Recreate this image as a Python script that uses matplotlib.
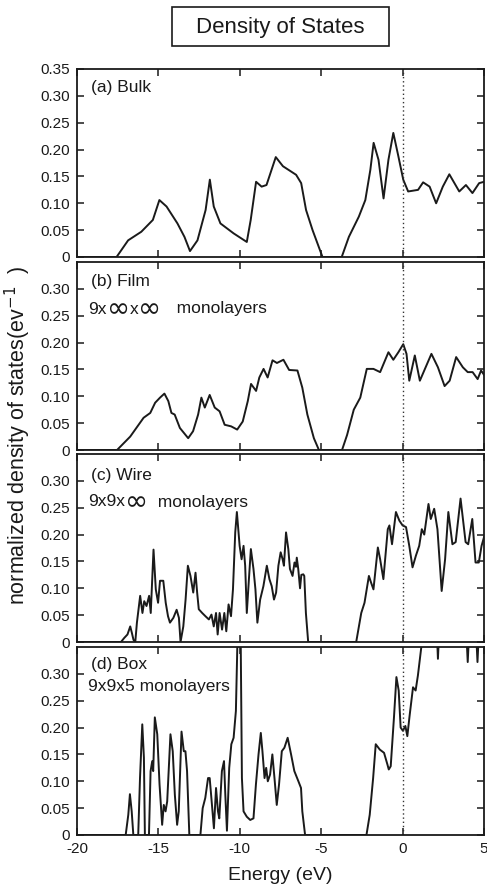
import matplotlib
matplotlib.use("Agg")
import matplotlib.pyplot as plt
from matplotlib.patches import Rectangle
from matplotlib.ticker import FuncFormatter
from matplotlib.offsetbox import TextArea, HPacker, AnchoredOffsetbox

plt.rcParams['font.family'] = ['Liberation Sans', 'DejaVu Sans']
plt.rcParams['axes.unicode_minus'] = False
plt.rcParams['mathtext.fontset'] = 'dejavusans'

# ---------------- data (energy in eV, normalized DOS) ----------------
E_bulk = [-20, -17.57, -16.86, -16.05, -15.34, -14.94, -14.5, -13.83, -13.4, -13.06,
          -12.6, -12.1, -11.84, -11.6, -11.19, -10.38, -9.57, -9.33, -9.0, -8.66,
          -8.36, -7.79, -7.35, -6.54, -6.23, -5.93, -5.53, -4.92, -3.74, -3.3,
          -2.69, -2.29, -1.98, -1.78, -1.48, -1.17, -0.87, -0.57, -0.26, 0.04,
          0.34, 0.95, 1.26, 1.66, 2.06, 2.47, 2.87, 3.48, 3.89, 4.29, 4.7, 5.0]
D_bulk = [0, 0, 0.031, 0.047, 0.069, 0.106, 0.094, 0.0625, 0.0375, 0.011,
          0.031, 0.0875, 0.144, 0.094, 0.0625, 0.044, 0.028, 0.069, 0.14, 0.131,
          0.134, 0.186, 0.169, 0.153, 0.1375, 0.0875, 0.05, 0, 0, 0.0375,
          0.075, 0.106, 0.1625, 0.2125, 0.181, 0.109, 0.181, 0.231, 0.1875, 0.144,
          0.122, 0.125, 0.139, 0.131, 0.1, 0.131, 0.154, 0.122, 0.134, 0.119, 0.1375, 0.14]

E_film = [-20, -17.54, -16.73, -15.91, -15.5, -15.2, -14.9, -14.63, -14.39, -14.2,
          -14.0, -13.68, -13.17, -12.87, -12.56, -12.36, -12.15, -11.85, -11.54, -11.24,
          -10.93, -10.53, -10.16, -9.82, -9.51, -9.31, -9.0, -8.8, -8.54, -8.29,
          -7.99, -7.72, -7.32, -6.97, -6.46, -6.16, -5.85, -5.45, -5.14, -3.72,
          -3.41, -3.0, -2.6, -2.2, -1.79, -1.38, -0.87, -0.57, -0.26, 0.04,
          0.24, 0.41, 0.75, 1.06, 1.77, 2.17, 2.58, 2.89, 3.29, 3.7,
          4.0, 4.3, 4.61, 4.82, 5.0]
D_film = [0, 0, 0.025, 0.06, 0.069, 0.088, 0.0975, 0.105, 0.091, 0.069,
          0.066, 0.041, 0.022, 0.035, 0.066, 0.0975, 0.079, 0.1025, 0.079, 0.072,
          0.047, 0.044, 0.038, 0.053, 0.091, 0.123, 0.11, 0.135, 0.151, 0.135,
          0.167, 0.162, 0.168, 0.149, 0.148, 0.116, 0.066, 0.022, 0, 0,
          0.028, 0.075, 0.0975, 0.151, 0.151, 0.145, 0.182, 0.168, 0.182, 0.197,
          0.179, 0.129, 0.176, 0.129, 0.179, 0.154, 0.119, 0.129, 0.173, 0.154,
          0.145, 0.145, 0.132, 0.148, 0.14]

E_wire = [-20, -17.3, -17.1, -16.9, -16.73, -16.63, -16.53, -16.42, -16.32, -16.12,
          -15.98, -15.87, -15.73, -15.57, -15.47, -15.3, -15.16, -15.02, -14.9, -14.7,
          -14.55, -14.41, -14.29, -14.08, -13.88, -13.74, -13.64, -13.47, -13.33, -13.19,
          -13.03, -12.86, -12.72, -12.62, -12.52, -12.31, -12.11, -11.9, -11.74, -11.6,
          -11.46, -11.36, -11.24, -11.09, -10.95, -10.83, -10.69, -10.54, -10.42, -10.28,
          -10.18, -10.01, -9.89, -9.77, -9.67, -9.57, -9.44, -9.32, -9.16, -9.04,
          -8.92, -8.75, -8.55, -8.34, -8.18, -8.04, -7.9, -7.77, -7.63, -7.49,
          -7.37, -7.29, -7.16, -7.02, -6.92, -6.76, -6.64, -6.55, -6.5, -6.41,
          -6.3, -6.22, -6.1, -6.04, -5.94, -5.8, -2.85, -2.54, -2.34, -2.07,
          -1.93, -1.79, -1.52, -1.38, -1.18, -0.91, -0.81, -0.65, -0.41, -0.2,
          0.0, 0.21, 0.41, 0.61, 0.82, 1.02, 1.18, 1.33, 1.59, 1.73,
          1.94, 2.14, 2.4, 2.61, 2.81, 3.06, 3.26, 3.56, 3.87, 4.03,
          4.28, 4.48, 4.68, 4.85, 5.0]
D_wire = [0, 0, 0.0075, 0.014, 0.029, 0.017, 0.004, 0, 0.036, 0.086,
          0.054, 0.076, 0.067, 0.086, 0.054, 0.172, 0.098, 0.073, 0.114, 0.114,
          0.073, 0.048, 0.036, 0.045, 0.06, 0.045, 0, 0.029, 0.079, 0.142,
          0.123, 0.092, 0.129, 0.092, 0.061, 0.054, 0.048, 0.042, 0.051, 0.029,
          0.054, 0.014, 0.054, 0.023, 0.054, 0.02, 0.07, 0.048, 0.098, 0.204,
          0.242, 0.179, 0.154, 0.179, 0.142, 0.054, 0.117, 0.173, 0.136, 0.098,
          0.036, 0.079, 0.104, 0.142, 0.117, 0.104, 0.079, 0.092, 0.142, 0.167,
          0.154, 0.142, 0.204, 0.173, 0.136, 0.123, 0.148, 0.14, 0.157, 0.136,
          0.1, 0.125, 0.126, 0.123, 0.054, 0, 0, 0.054, 0.073, 0.123,
          0.11, 0.098, 0.176, 0.154, 0.117, 0.21, 0.217, 0.182, 0.242, 0.226,
          0.217, 0.214, 0.179, 0.139, 0.161, 0.179, 0.21, 0.2, 0.257, 0.229,
          0.248, 0.21, 0.095, 0.154, 0.242, 0.182, 0.186, 0.267, 0.186, 0.182,
          0.229, 0.148, 0.148, 0.179, 0.195]

E_box = [-20, -17.01, -16.85, -16.75, -16.64, -16.54, -16.24, -16.13, -15.99, -15.89,
         -15.83, -15.58, -15.48, -15.38, -15.32, -15.22, -15.07, -14.93, -14.77, -14.67,
         -14.56, -14.46, -14.26, -14.12, -13.99, -13.85, -13.75, -13.58, -13.44, -13.34,
         -13.24, -13.1, -12.42, -12.28, -12.12, -11.95, -11.85, -11.71, -11.59, -11.46,
         -11.34, -11.26, -11.1, -10.97, -10.89, -10.79, -10.65, -10.52, -10.38, -10.24,
         -10.08, -9.97, -9.87, -9.77, -9.57, -9.36, -9.16, -9.01, -8.85, -8.71,
         -8.61, -8.48, -8.38, -8.28, -8.14, -8.0, -7.87, -7.73, -7.59, -7.42,
         -7.26, -7.06, -6.85, -6.65, -6.4, -6.24, -6.16, -5.99, -2.22, -2.02,
         -1.81, -1.65, -1.4, -1.14, -0.93, -0.85, -0.73, -0.53, -0.38, -0.24,
         -0.12, 0.02, 0.17, 0.29, 0.43, 0.64, 0.8, 0.94, 1.15, 1.3,
         2.05, 2.17, 2.3, 3.85, 4.0, 4.15, 4.45, 4.6, 4.75, 5.0]
D_box = [0, 0, 0.0375, 0.076, 0.044, 0, 0, 0.106, 0.206, 0.144,
         0, 0, 0.119, 0.1375, 0.119, 0.219, 0.1875, 0.094, 0.019, 0.056,
         0.044, 0.0625, 0.1875, 0.156, 0.075, 0.019, 0.044, 0.1925, 0.156, 0.156,
         0.119, 0, 0, 0.05, 0.069, 0.106, 0.106, 0.056, 0.0125, 0.0875,
         0.044, 0.031, 0.119, 0.1375, 0.075, 0.008, 0.125, 0.169, 0.181, 0.231,
         0.45, 0.45, 0.106, 0.044, 0.034, 0.028, 0.031, 0.094, 0.15, 0.19,
         0.156, 0.106, 0.125, 0.1, 0.1125, 0.15, 0.106, 0.056, 0.094, 0.156,
         0.1625, 0.181, 0.15, 0.119, 0.1, 0.0875, 0.044, 0, 0, 0.0375,
         0.106, 0.169, 0.159, 0.153, 0.131, 0.122, 0.128, 0.219, 0.294, 0.269,
         0.2, 0.194, 0.203, 0.184, 0.222, 0.275, 0.269, 0.297, 0.35, 0.42,
         0.42, 0.328, 0.42, 0.42, 0.322, 0.42, 0.42, 0.322, 0.42, 0.42]

panel_titles = ["(a) Bulk", "(b) Film", "(c) Wire", "(d) Box"]
# sub-labels split into pieces; "\u221e" pieces are drawn larger
panel_sub = [None,
             ["9x", "\u221e", "x", "\u221e", "   monolayers"],
             ["9x9x", "\u221e", "  monolayers"],
             ["9x9x5 monolayers"]]
x_ticks = [-20, -15, -10, -5, 0, 5]
y_ticks_top = [0, 0.05, 0.10, 0.15, 0.20, 0.25, 0.30, 0.35]
y_ticks_other = [0, 0.05, 0.10, 0.15, 0.20, 0.25, 0.30]
series = [(E_bulk, D_bulk), (E_film, D_film), (E_wire, D_wire), (E_box, D_box)]

# ---------------- layout ----------------
W, H = 487, 886
fig = plt.figure(figsize=(W / 100, H / 100), dpi=100)
left_px, right_px = 77, 484
bottoms_px = [257, 450, 642, 835]
height_px = 188
INK = "#1a1a1a"

def yfmt(v, pos):
    return "0" if abs(v) < 1e-9 else f"{v:.2f}"

axes = []
for i, (E, D) in enumerate(series):
    b = bottoms_px[i]
    ax = fig.add_axes([left_px / W, 1 - b / H, (right_px - left_px) / W, height_px / H])
    axes.append(ax)
    ax.plot(E, D, color=INK, lw=1.4, solid_joinstyle="round")
    ax.axvline(0, color="#333333", lw=1.0, ls=(0, (1, 2)))
    ax.set_xlim(-20, 5)
    ax.set_ylim(0, 0.35)
    ax.set_xticks(x_ticks)
    ax.set_yticks(y_ticks_top if i == 0 else y_ticks_other)
    ax.yaxis.set_major_formatter(FuncFormatter(yfmt))
    ax.tick_params(direction="in", top=True, right=True, length=5, width=1.1,
                   labelsize=11, colors=INK)
    ax.tick_params(axis="y", pad=5)
    ax.tick_params(axis="x", pad=5)
    if i < 3:
        ax.tick_params(labelbottom=False)
    for s in ax.spines.values():
        s.set_linewidth(1.3)
        s.set_color(INK)
    # panel labels
    top_off = [11, 12, 14, 10][i]
    ax.text(14 / 407, 1 - top_off / height_px, panel_titles[i], transform=ax.transAxes,
            ha="left", va="top", fontsize=12.5, color=INK)
    if panel_sub[i]:
        sub_off = [0, 33, 34, 32][i]
        pieces = []
        for p in panel_sub[i]:
            big = (p == "\u221e")
            pieces.append(TextArea(p, textprops=dict(
                fontsize=20 if big else 12.5, color=INK,
                family=["DejaVu Sans"] if big else ["Liberation Sans", "DejaVu Sans"])))
        box = HPacker(children=pieces, align="center", pad=0, sep=0)
        anch = AnchoredOffsetbox(loc="upper left", child=box, pad=0, borderpad=0,
                                 frameon=False,
                                 bbox_to_anchor=(11 / 407, 1 - sub_off / height_px),
                                 bbox_transform=ax.transAxes)
        ax.add_artist(anch)

axes[-1].set_xlabel("Energy (eV)", fontsize=14, color=INK, labelpad=8)

fig.text(18 / W, 1 - 435 / H, "normalized density of states(ev$^{-1}$  )",
         rotation=90, ha="center", va="center", fontsize=15.5, color=INK)

# title box
fig.patches.append(Rectangle((172 / W, 1 - 46 / H), 217 / W, 39 / H,
                             transform=fig.transFigure, fill=False,
                             edgecolor=INK, lw=1.2))
fig.text(280.5 / W, 1 - 27 / H, "Density of States", ha="center", va="center",
         fontsize=16, color=INK)

fig.savefig("out.png", dpi=100)
